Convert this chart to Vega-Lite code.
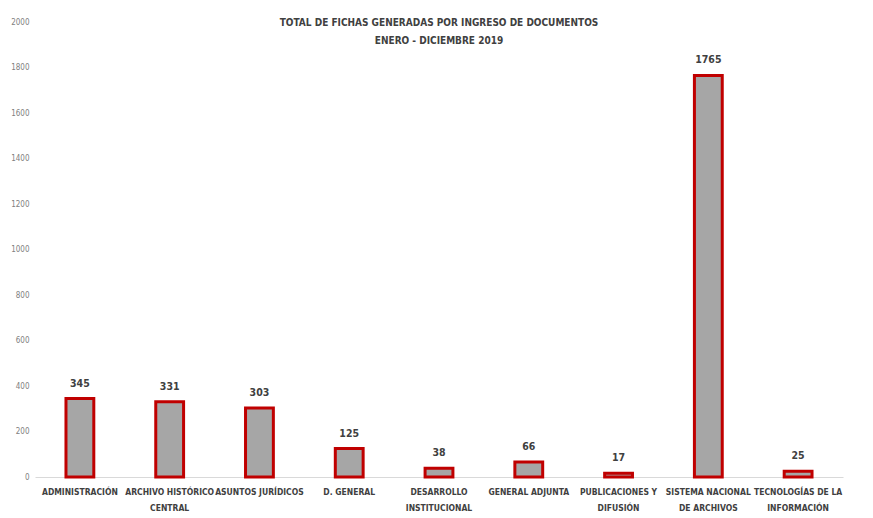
{
  "$schema": "https://vega.github.io/schema/vega-lite/v6.json",
  "autosize": "none",
  "width": 808,
  "height": 455,
  "padding": {"left": 35, "top": 22, "right": 30, "bottom": 41},
  "background": "white",
  "title": {
    "text": ["TOTAL DE FICHAS GENERADAS POR INGRESO DE DOCUMENTOS", "ENERO - DICIEMBRE 2019"],
    "font": "DejaVu Sans Condensed, Liberation Sans",
    "fontSize": 10,
    "fontWeight": "bold",
    "color": "#404040",
    "anchor": "middle",
    "baseline": "top",
    "offset": -28,
    "lineHeight": 18
  },
  "data": {
    "values": [
      {"area": "ADMINISTRACIÓN", "fichas": 345},
      {"area": "ARCHIVO HISTÓRICO|CENTRAL", "fichas": 331},
      {"area": "ASUNTOS JURÍDICOS", "fichas": 303},
      {"area": "D. GENERAL", "fichas": 125},
      {"area": "DESARROLLO|INSTITUCIONAL", "fichas": 38},
      {"area": "GENERAL ADJUNTA", "fichas": 66},
      {"area": "PUBLICACIONES Y|DIFUSIÓN", "fichas": 17},
      {"area": "SISTEMA NACIONAL|DE ARCHIVOS", "fichas": 1765},
      {"area": "TECNOLOGÍAS DE LA|INFORMACIÓN", "fichas": 25}
    ]
  },
  "config": {"view": {"stroke": null}},
  "encoding": {
    "x": {
      "field": "area",
      "type": "nominal",
      "sort": null,
      "scale": {"paddingInner": 0.69, "paddingOuter": 0.345},
      "axis": {
        "title": null,
        "labelAngle": 0,
        "labelExpr": "split(datum.value, '|')",
        "labelFont": "DejaVu Sans Condensed, Liberation Sans",
        "labelFontSize": 8.5,
        "labelFontWeight": "bold",
        "labelColor": "#404040",
        "labelLineHeight": 16,
        "labelPadding": 10,
        "ticks": false,
        "domainColor": "#D9D9D9",
        "domainWidth": 1,
        "labelBaseline": "top"
      }
    },
    "y": {
      "field": "fichas",
      "type": "quantitative",
      "scale": {"domain": [0, 2000]},
      "axis": {
        "title": null,
        "format": "d",
        "values": [0, 200, 400, 600, 800, 1000, 1200, 1400, 1600, 1800, 2000],
        "grid": false,
        "domain": false,
        "ticks": false,
        "labelFont": "DejaVu Sans Condensed, Liberation Sans",
        "labelFontSize": 8,
        "labelColor": "#808080",
        "labelPadding": 6
      }
    }
  },
  "layer": [
    {
      "mark": {"type": "bar", "color": "#A6A6A6", "stroke": "#C00000", "strokeWidth": 3, "strokeJoin": "miter"}
    },
    {
      "mark": {"type": "text", "dy": -10, "font": "DejaVu Sans Condensed, Liberation Sans", "fontSize": 10.5, "fontWeight": "bold", "color": "#404040", "baseline": "bottom"},
      "encoding": {"text": {"field": "fichas", "type": "quantitative"}}
    }
  ]
}
